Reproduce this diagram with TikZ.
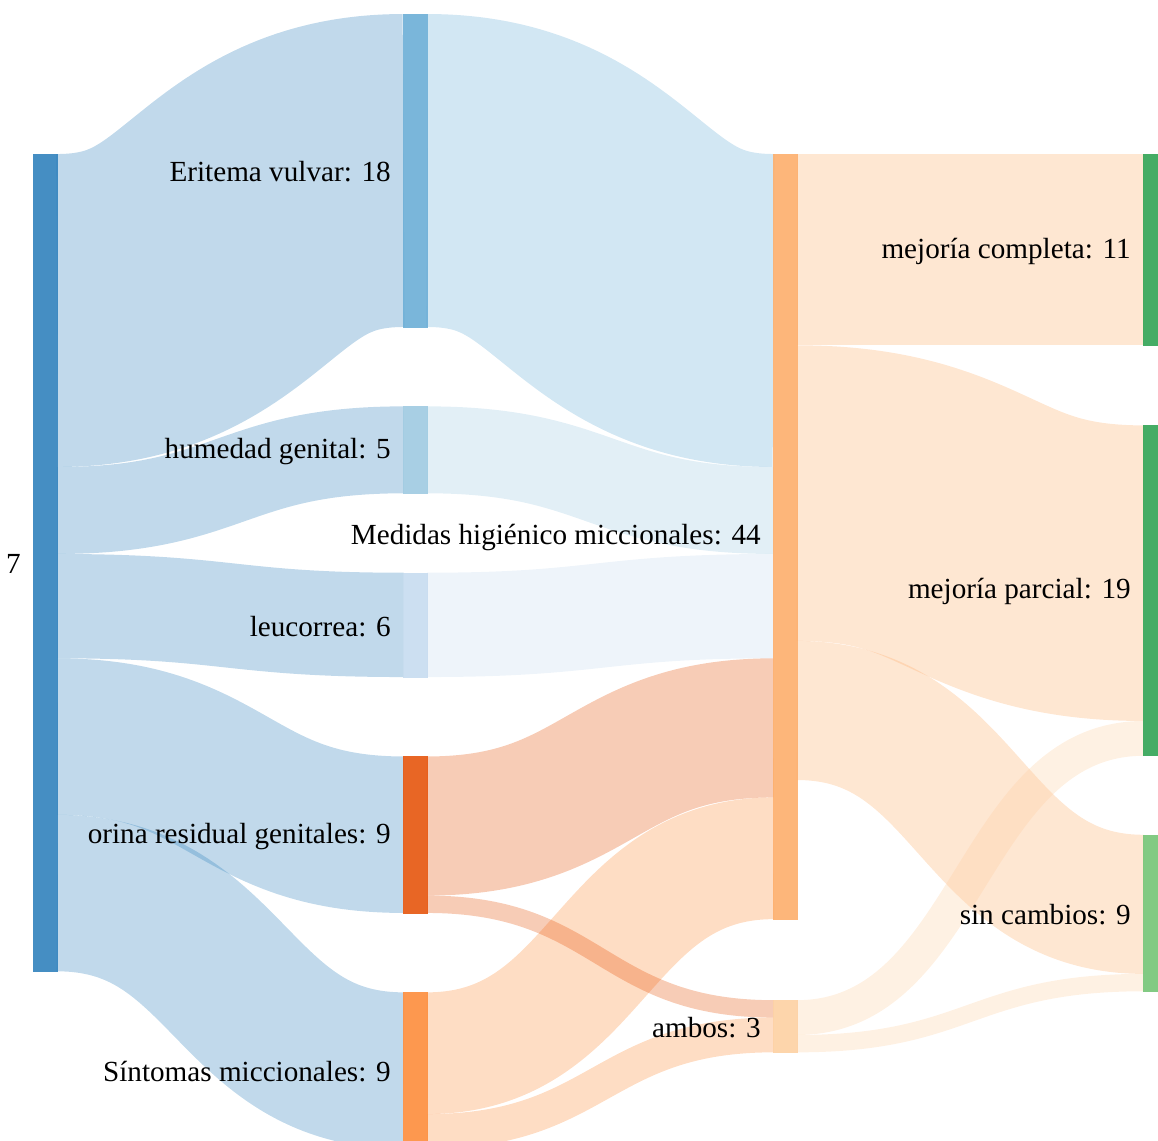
\documentclass[tikz,border=0pt]{standalone}
\usepackage{fontspec}
\setmainfont{Liberation Serif}
\usepackage{tikz}
\usetikzlibrary{positioning, calc}

\definecolor{blueA}{HTML}{3182BD}
\definecolor{blueB}{HTML}{6BAED6}
\definecolor{blueC}{HTML}{9ECAE1}
\definecolor{blueD}{HTML}{C6DBEF}
\definecolor{orangeA}{HTML}{E6550D}
\definecolor{orangeB}{HTML}{FD8D3C}
\definecolor{orangeC}{HTML}{FDAE6B}
\definecolor{orangeD}{HTML}{FDD0A2}
\definecolor{greenA}{HTML}{31A354}
\definecolor{greenB}{HTML}{74C476}

% band from #1 to #3: offsets #2 and #4 (in counts), width #5 (count), colour #6
\newcommand{\skflow}[6]{%
  \draw[skflow, draw=#6, line width=#5*0.3478cm]
    let \p1=($(#1.north east)+(-0.6,{(#2+#5/2)*17.39})$),
        \p2=($(#3.north west)+(0.6,{(#4+#5/2)*17.39})$) in
    (\p1) .. controls ({(\x1+\x2)/2},\y1) and ({(\x1+\x2)/2},\y2) .. (\p2);}

\begin{document}
\begin{tikzpicture}[x=0.02cm, y=-0.02cm,
    sknode/.style={rectangle, draw=none, inner sep=0pt, minimum width=0.48cm, anchor=north west},
    sklabel/.style={inner sep=0pt, text=black, yshift=-0.6pt, font=\fontsize{16.6}{20}\selectfont},
    skflow/.style={draw opacity=0.3, line cap=butt}]
    \useasboundingbox (0,0) rectangle (1158,1141);
    \clip (0,0) rectangle (1158,1141);
    % columns of bars (filled after the bands)
    \node (n7) [sknode, minimum height=47*0.3478cm] at (33,154) {};%total
    \node (eri) [sknode, minimum height=18*0.3478cm] at (403,14) {};%eritema
    \node (hum) [sknode, minimum height=5*0.3478cm, below=44.8pt of eri] {};%humedad
    \node (leu) [sknode, minimum height=6*0.3478cm, below=44.8pt of hum] {};%leucorrea
    \node (ori) [sknode, minimum height=9*0.3478cm, below=44.8pt of leu] {};%orina residual
    \node (sin) [sknode, minimum height=9*0.3478cm, below=44.8pt of ori] {};%sintomas
    \node (med) [sknode, minimum height=44*0.3478cm] at (773,154) {};%medidas
    \node (amb) [sknode, minimum height=3*0.3478cm, below=45.8pt of med] {};%ambos
    \node (comp) [sknode, minimum height=11*0.3478cm] at (1143,154) {};%completa
    \node (parc) [sknode, minimum height=19*0.3478cm, below=45.2pt of comp] {};%parcial
    \node (sinc) [sknode, minimum height=9*0.3478cm, below=44.6pt of parc] {};%sin cambios
    % bands
    \skflow{n7}{0}{eri}{0}{18}{blueA}%
    \skflow{n7}{18}{hum}{0}{5}{blueA}%
    \skflow{n7}{23}{leu}{0}{6}{blueA}%
    \skflow{n7}{29}{ori}{0}{9}{blueA}%
    \skflow{n7}{38}{sin}{0}{9}{blueA}%
    \skflow{eri}{0}{med}{0}{18}{blueB}%
    \skflow{hum}{0}{med}{18}{5}{blueC}%
    \skflow{leu}{0}{med}{23}{6}{blueD}%
    \skflow{ori}{0}{med}{29}{8}{orangeA}%
    \skflow{sin}{0}{med}{37}{7}{orangeB}%
    \skflow{ori}{8}{amb}{0}{1}{orangeA}%
    \skflow{sin}{7}{amb}{1}{2}{orangeB}%
    \skflow{med}{0}{comp}{0}{11}{orangeC}%
    \skflow{med}{11}{parc}{0}{17}{orangeC}%
    \skflow{med}{28}{sinc}{0}{8}{orangeC}%
    \skflow{amb}{0}{parc}{17}{2}{orangeD}%
    \skflow{amb}{2}{sinc}{8}{1}{orangeD}%
    % bars on top of the bands
    \foreach \bar/\col in {n7/blueA, eri/blueB, hum/blueC, leu/blueD, ori/orangeA, sin/orangeB, med/orangeC, amb/orangeD, comp/greenA, parc/greenA, sinc/greenB}
      \fill[\col, fill opacity=0.9] (\bar.north west) rectangle (\bar.south east);
    % labels
    \node (l7) [sklabel, left=6.8pt of n7] {7};
    \node (leri) [sklabel, left=6.8pt of eri] {Eritema vulvar: 18};
    \node (lhum) [sklabel, left=6.8pt of hum] {humedad genital: 5};
    \node (lleu) [sklabel, left=6.8pt of leu] {leucorrea: 6};
    \node (lori) [sklabel, left=6.8pt of ori] {orina residual genitales: 9};
    \node (lsin) [sklabel, left=6.8pt of sin] {Síntomas miccionales: 9};
    \node (lmed) [sklabel, left=6.8pt of med] {Medidas higiénico miccionales: 44};
    \node (lamb) [sklabel, left=6.8pt of amb] {ambos: 3};
    \node (lcomp) [sklabel, left=6.8pt of comp] {mejoría completa: 11};
    \node (lparc) [sklabel, left=6.8pt of parc] {mejoría parcial: 19};
    \node (lsinc) [sklabel, left=6.8pt of sinc] {sin cambios: 9};
\end{tikzpicture}
\end{document}
